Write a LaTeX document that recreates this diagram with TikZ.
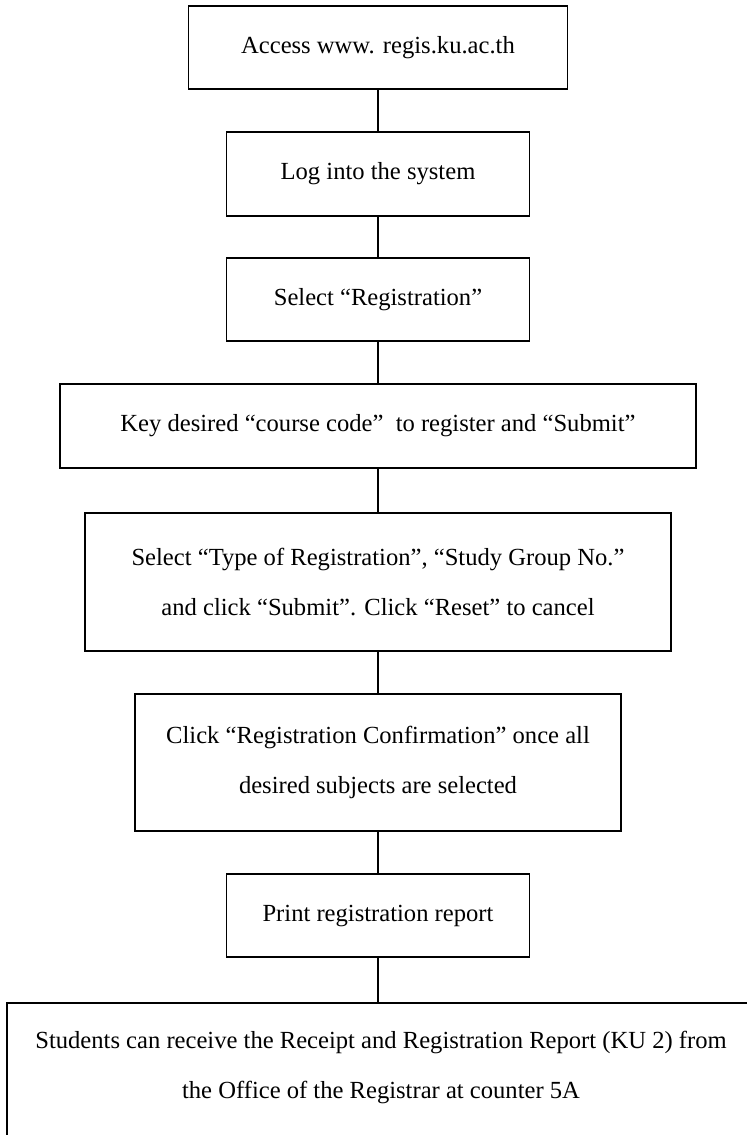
\documentclass[tikz,border=0pt]{standalone}
\usepackage{fontspec}
\setmainfont{Liberation Serif}
\begin{document}
\begin{tikzpicture}[x=0.5pt,y=-0.5pt,
  steptext/.style={inner sep=0pt,align=center,font={\fontsize{12.3}{25}\selectfont}},
  stepbox/.style={steptext,draw,line width=0.8pt},
  link/.style={line width=1pt}]
 \path[use as bounding box,clip] (0,0) rectangle (747,1135);
 \node[stepbox,minimum width=189.5pt,minimum height=41.5pt](access) at (378,47.5) {Access www. regis.ku.ac.th};
 \node[stepbox,minimum width=151.5pt,minimum height=42pt](login) at (378,174) {Log into the system};
 \node[stepbox,minimum width=151.5pt,minimum height=41.5pt](select) at (378,299.5) {Select “Registration”};
 \node[stepbox,minimum width=318pt,minimum height=42pt](course) at (378,426) {Key desired “course code”\ \ to register and “Submit”};
 \node[stepbox,minimum width=293pt,minimum height=69pt](type) at (378,582) {Select “Type of Registration”, “Study Group No.”\\and click “Submit”. Click “Reset” to cancel};
 \node[stepbox,minimum width=243pt,minimum height=68.5pt](confirm) at (378,762.5) {Click “Registration Confirmation” once all\\desired subjects are selected};
 \node[stepbox,minimum width=151.5pt,minimum height=41.5pt](print) at (378,915.5) {Print registration report};
 \node[stepbox,anchor=north west,minimum width=380pt,minimum height=100pt](receipt) at (6,1002) {};
 \node[steptext](receipttext) at (381,1067) {Students can receive the Receipt and Registration Report (KU 2) from\\the Office of the Registrar at counter 5A};
 \draw[link](access)--(login);
 \draw[link](login)--(select);
 \draw[link](select)--(course);
 \draw[link](course)--(type);
 \draw[link](type)--(confirm);
 \draw[link](confirm)--(print);
 \draw[link](print.south)--(print.south |- receipt.north);
\end{tikzpicture}
\end{document}
